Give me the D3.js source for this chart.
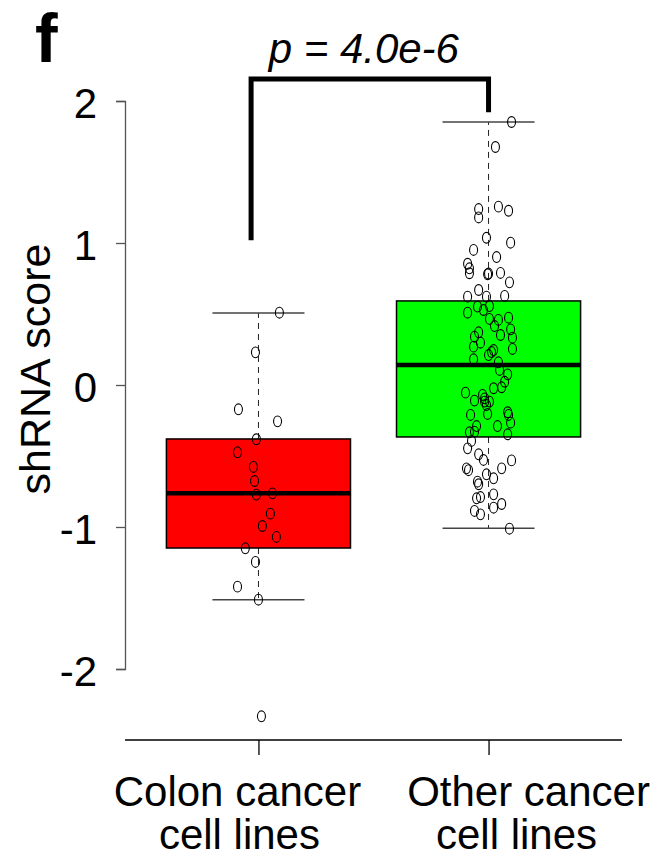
<!DOCTYPE html>
<html>
<head>
<meta charset="utf-8">
<script src="https://cdn.jsdelivr.net/npm/d3@7"></script>
<style>
  body { margin: 0; background: #fff; }
  text { font-family: "Liberation Sans", Arial, Helvetica, sans-serif; fill: #000; }
</style>
</head>
<body>
<div class="container"></div>
<script>
// groups on the x axis (position 1 and 2)
var categories = ["Colon cancer", "Other cancer"];
var categorySub = ["cell lines", "cell lines"];
var boxColors = ["#ff0000", "#00ff00"];

// box stats: [whiskerLow, q1, median, q3, whiskerHigh]
var colonStats = [-1.512, -1.148, -0.763, -0.380, 0.507];
var otherStats = [-1.008, -0.366, 0.141, 0.592, 1.852];

// shRNA scores per cell line and the horizontal jitter (in group units)
var colonScores = [0.509, 0.23, -0.171, -0.256, -0.382, -0.474, -0.577, -0.676, -0.772,
  -0.763, -0.906, -0.993, -1.07, -1.15, -1.246, -1.42, -1.512, -2.333];
var colonJitter = [0.091, -0.013, -0.087, 0.083, -0.009, -0.091, -0.022, -0.017, -0.009,
  0.061, 0.052, 0.017, 0.078, -0.057, -0.013, -0.091, 0, 0.013];

var otherScores = [1.852, 1.676, 1.239, 1.18, 1.256, 1.227, 1.037, 1.002, 0.951, 0.901,
  0.854, 0.822, 0.787, 0.78, 0.785, 0.789, 0.723, 0.669, 0.622, 0.622, 0.627,
  0.552, 0.528, 0.556, 0.509, 0.465, 0.458, 0.474, 0.415, 0.392, 0.352,
  0.371, 0.340, 0.298, 0.333, 0.254, 0.270, 0.246, 0.232, 0.211, 0.181,
  0.160, 0.106, 0.075, 0.023, -0.016, -0.023, -0.054, -0.070, -0.110, -0.094,
  -0.117, -0.117, -0.141, -0.211, -0.204, -0.192, -0.211, -0.265, -0.289, -0.289,
  -0.329, -0.333, -0.347, -0.394, -0.446, -0.488, -0.528, -0.531, -0.587, -0.587,
  -0.600, -0.629, -0.657, -0.681, -0.699, -0.770, -0.798, -0.789, -0.838, -0.864,
  -0.887, -0.911, -1.012];
var otherJitter = [0.1, 0.03, -0.043, -0.043, 0.043, 0.087, -0.009, 0.096, -0.065, 0.035,
  -0.091, -0.083, -0.083, -0.004, 0, 0.052, 0.091, -0.043, -0.091, -0.009, 0.07,
  -0.048, -0.022, 0.004, -0.091, 0.004, 0.043, 0.087, 0.026, 0.096, 0.052,
  -0.043, -0.061, -0.035, 0.104, 0.104, -0.065, 0.022, 0.013, 0, -0.065,
  0.043, 0.048, 0.083, 0.07, 0.057, 0.022, -0.1, -0.026, -0.061, -0.017,
  -0.017, 0.004, -0.009, -0.078, -0.004, 0.083, 0.087, 0.096, 0.039, -0.052,
  -0.061, -0.083, 0.083, -0.074, -0.091, -0.043, -0.022, 0.1, 0.057, -0.096,
  -0.087, -0.009, 0.022, -0.048, -0.043, 0.022, -0.052, -0.035, 0.057, 0.022,
  -0.061, -0.035, 0.091];

var yTicks = [-2, -1, 0, 1, 2];

// significance bracket: x ends (group units), y of the two feet and the top
var bracketX = [0.968, 2.0];
var bracketFeet = [1.02, 1.92];
var bracketTop = 2.155;
var pLabel = "p = 4.0e-6";

const WIDTH = 662;
const HEIGHT = 860;
const BOXWIDTH = 0.8;
const CAPWIDTH = 0.4;

var xScale = d3.scaleLinear().domain([0.42, 2.58]).range([125, 622]);
var yScale = d3.scaleLinear().domain([-2, 2]).range([669, 101]);

var svg = d3.select('.container').append('svg')
  .attr('width', WIDTH)
  .attr('height', HEIGHT);

// y axis
var yAxis = d3.axisLeft(yScale).tickValues(yTicks).tickSize(9).tickPadding(19)
  .tickFormat(d3.format('d'));
var gy = svg.append('g')
  .attr('transform', 'translate(' + xScale.range()[0] + ',0)')
  .call(yAxis);
gy.select('.domain').attr('stroke', '#555').attr('stroke-width', 1.3);
gy.selectAll('.tick line').attr('stroke', '#555').attr('stroke-width', 1.3);
gy.selectAll('.tick text')
  .style('font-size', '42px')
  .attr('fill', '#000')
  .attr('dy', '0.4em')
  .text(function (d) { return d < 0 ? '-' + Math.abs(d) : d; });

// x axis
var xAxis = d3.axisBottom(xScale).tickValues([1, 2]).tickSize(15).tickFormat('');
var gx = svg.append('g')
  .attr('transform', 'translate(0,740)')
  .call(xAxis);
gx.select('.domain').attr('stroke', '#000').attr('stroke-width', 1.3)
  .attr('d', 'M' + xScale.range()[0] + ',0H' + xScale.range()[1]);
gx.selectAll('.tick line').attr('stroke', '#000').attr('stroke-width', 1.3);

// category labels (placed as in the original figure, not exactly under the ticks)
var lineShift = [[-21, -19], [40, 28]];
var labels = svg.append('g');
categories.forEach(function (c, i) {
  var t = labels.append('text')
    .attr('text-anchor', 'middle')
    .style('font-size', '42px');
  t.append('tspan').attr('x', xScale(i + 1) + lineShift[i][0]).attr('y', 806).text(c);
  t.append('tspan').attr('x', xScale(i + 1) + lineShift[i][1]).attr('y', 849).text(categorySub[i]);
});

svg.append('text')
  .attr('transform', 'translate(50,' + (yScale(0) - 16) + ') rotate(-90)')
  .attr('text-anchor', 'middle')
  .style('font-size', '43px')
  .text('shRNA score');

svg.append('text')
  .attr('x', 35).attr('y', 62)
  .style('font-size', '68px')
  .style('font-weight', 'bold')
  .text('f');

// boxes
var allStats = [colonStats, otherStats];
var boxes = svg.append('g');
allStats.forEach(function (s, i) {
  var cx = i + 1;
  var g = boxes.append('g');
  g.append('line')
    .attr('x1', xScale(cx)).attr('x2', xScale(cx))
    .attr('y1', yScale(s[3])).attr('y2', yScale(s[4]))
    .attr('stroke', '#222').attr('stroke-dasharray', '6,5');
  g.append('line')
    .attr('x1', xScale(cx)).attr('x2', xScale(cx))
    .attr('y1', yScale(s[1])).attr('y2', yScale(s[0]))
    .attr('stroke', '#222').attr('stroke-dasharray', '6,5');
  [s[0], s[4]].forEach(function (w) {
    g.append('line')
      .attr('x1', xScale(cx - CAPWIDTH / 2)).attr('x2', xScale(cx + CAPWIDTH / 2))
      .attr('y1', yScale(w)).attr('y2', yScale(w))
      .attr('stroke', '#444').attr('stroke-width', 1.5);
  });
  g.append('rect')
    .attr('x', xScale(cx - BOXWIDTH / 2))
    .attr('width', xScale(cx + BOXWIDTH / 2) - xScale(cx - BOXWIDTH / 2))
    .attr('y', yScale(s[3]))
    .attr('height', yScale(s[1]) - yScale(s[3]))
    .attr('fill', boxColors[i])
    .attr('stroke', '#000').attr('stroke-width', 1.5);
  g.append('line')
    .attr('x1', xScale(cx - BOXWIDTH / 2)).attr('x2', xScale(cx + BOXWIDTH / 2))
    .attr('y1', yScale(s[2])).attr('y2', yScale(s[2]))
    .attr('stroke', '#000').attr('stroke-width', 4.5);
});

// points
var groups = [
  { pos: 1, scores: colonScores, jitter: colonJitter },
  { pos: 2, scores: otherScores, jitter: otherJitter }
];
groups.forEach(function (grp) {
  svg.append('g').selectAll('ellipse').data(grp.scores)
    .enter().append('ellipse')
    .attr('cx', function (d, i) { return xScale(grp.pos + grp.jitter[i]); })
    .attr('cy', function (d) { return yScale(d); })
    .attr('rx', 4)
    .attr('ry', 5.4)
    .attr('fill', 'none')
    .attr('stroke', '#000')
    .attr('stroke-width', 1.1);
});

// significance bracket
var bracket = d3.line()
  .x(function (d) { return xScale(d[0]); })
  .y(function (d) { return yScale(d[1]); });
svg.append('path')
  .attr('d', bracket([
    [bracketX[0], bracketFeet[0]],
    [bracketX[0], bracketTop],
    [bracketX[1], bracketTop],
    [bracketX[1], bracketFeet[1]]
  ]))
  .attr('fill', 'none')
  .attr('stroke', '#000')
  .attr('stroke-width', 5);

svg.append('text')
  .attr('x', xScale((bracketX[0] + bracketX[1]) / 2) - 6)
  .attr('y', 63)
  .attr('text-anchor', 'middle')
  .style('font-size', '42px')
  .style('font-style', 'italic')
  .text(pLabel);
</script>
</body>
</html>
